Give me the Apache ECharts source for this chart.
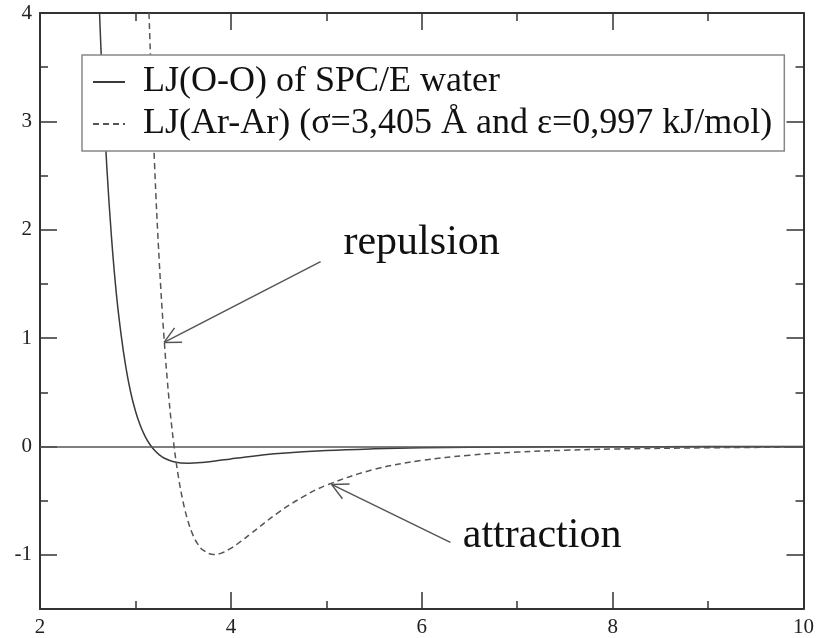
<!DOCTYPE html>
<html>
<head>
<meta charset="utf-8">
<script src="https://cdn.jsdelivr.net/npm/echarts@6/dist/echarts.min.js"></script>
<style>
  html, body { margin: 0; padding: 0; background: #fff; }
  #main { width: 817px; height: 638px; }
</style>
</head>
<body>
<div id="main"></div>
<script>
// LJ(O-O) of SPC/E water
var waterR = [2.6, 2.63, 2.65, 2.7, 2.75, 2.8, 2.85, 2.9, 2.95, 3.0, 3.05, 3.1, 3.15, 3.2, 3.25, 3.3, 3.4, 3.55, 3.7, 3.85, 4.0, 4.25, 4.5, 5, 5.5, 6, 7, 8, 9, 10];
var waterV = [4.58, 3.86, 3.45, 2.58, 1.92, 1.41, 1.03, 0.73, 0.50, 0.327, 0.195, 0.095, 0.020, -0.036, -0.077, -0.107, -0.141, -0.155, -0.148, -0.133, -0.115, -0.088, -0.066, -0.038, -0.022, -0.013, -0.005, -0.0024, -0.0012, -0.0006];
// LJ(Ar-Ar)
var argonR = [3.1, 3.12, 3.15, 3.2, 3.25, 3.3, 3.35, 3.4, 3.45, 3.5, 3.55, 3.6, 3.65, 3.7, 3.82, 3.9, 4.0, 4.1, 4.2, 4.5, 4.75, 5, 5.5, 6, 6.5, 7, 7.5, 8, 9, 10];
var argonV = [5.29, 4.65, 3.79, 2.61, 1.70, 1.00, 0.451, 0.036, -0.279, -0.515, -0.687, -0.811, -0.896, -0.951, -0.997, -0.984, -0.940, -0.879, -0.811, -0.608, -0.468, -0.358, -0.212, -0.129, -0.081, -0.052, -0.035, -0.024, -0.012, -0.006];

var seriesNames = ['LJ(O-O) of SPC/E water', 'LJ(Ar-Ar) (σ=3,405 Å and ε=0,997 kJ/mol)'];
var yMajor = [-1, 0, 1, 2, 3, 4];

// annotations: [text, textX, textY, tailX, tailY, tipX, tipY] in data units
var notes = [
  ['repulsion', 5.18, 1.88, 4.94, 1.705, 3.30, 0.96],
  ['attraction', 6.43, -0.83, 6.30, -0.885, 5.055, -0.35]
];

var font = 'Liberation Serif';
var axisColor = '#333';

function pairs(xs, ys) {
  return xs.map(function (x, i) { return [x, ys[i]]; });
}

function xAx(pos, labels) {
  return {
    type: 'value', position: pos, min: 2, max: 10, interval: 2,
    axisLine: { show: true, onZero: false, lineStyle: { color: axisColor, width: 2 } },
    axisTick: { show: true, inside: true, length: 17, lineStyle: { color: axisColor, width: 1.5 } },
    minorTick: { show: true, splitNumber: 2, length: 8, lineStyle: { color: axisColor, width: 1.5 } },
    axisLabel: { show: labels, color: '#222', fontFamily: font, fontSize: 21, margin: 8 },
    splitLine: { show: false }
  };
}

// minor ticks every 0.5 (axis line), major ticks + labels on integers
function yMinor(pos) {
  return {
    type: 'value', position: pos, min: -1.5, max: 4, interval: 0.5,
    axisLine: { show: true, onZero: false, lineStyle: { color: axisColor, width: 2 } },
    axisTick: { show: true, inside: true, length: 8, lineStyle: { color: axisColor, width: 1.5 } },
    axisLabel: { show: false },
    splitLine: { show: false }
  };
}
function yMaj(pos, labels) {
  return {
    type: 'value', position: pos, min: -1.5, max: 4,
    axisLine: { show: false, onZero: false },
    axisTick: { show: true, inside: true, length: 17, customValues: yMajor, lineStyle: { color: axisColor, width: 1.5 } },
    axisLabel: { show: labels, customValues: yMajor, color: '#222', fontFamily: font, fontSize: 21, margin: 8 },
    splitLine: { show: false }
  };
}

var myChart = echarts.init(document.getElementById('main'));
myChart.setOption({
  animation: false,
  backgroundColor: '#fff',
  grid: { left: 40, right: 10, top: 13, bottom: 28 },
  legend: {
    orient: 'vertical',
    left: 82, top: 55,
    padding: [9, 12, 9, 10],
    backgroundColor: '#fff',
    borderColor: '#888',
    borderWidth: 1.5,
    itemWidth: 32, itemHeight: 14, itemGap: 6,
    z: 10,
    itemStyle: { opacity: 0 },
    textStyle: { fontFamily: font, fontSize: 36, lineHeight: 36, color: '#111', padding: [0, 0, 0, 13] },
    data: seriesNames
  },
  xAxis: [xAx('bottom', true), xAx('top', false)],
  yAxis: [yMinor('left'), yMaj('left', true), yMinor('right'), yMaj('right', false)],
  series: [
    {
      name: seriesNames[0],
      type: 'line',
      symbol: 'none',
      smooth: 0.4,
      data: pairs(waterR, waterV),
      lineStyle: { color: '#3a3a3a', width: 1.5 },
      itemStyle: { color: '#3a3a3a' },
      markLine: {
        silent: true, symbol: 'none', label: { show: false },
        lineStyle: { color: '#555', width: 1.5, type: 'solid' },
        data: [{ yAxis: 0 }]
      }
    },
    {
      name: seriesNames[1],
      type: 'line',
      symbol: 'none',
      smooth: 0.4,
      data: pairs(argonR, argonV),
      lineStyle: { color: '#555', width: 1.5, type: [6, 4] },
      itemStyle: { color: '#555' }
    }
  ]
});

// annotation texts and open arrows, placed through the axes
var graphics = [];
notes.forEach(function (n) {
  var tp = myChart.convertToPixel({ xAxisIndex: 0, yAxisIndex: 0 }, [n[1], n[2]]);
  var tail = myChart.convertToPixel({ xAxisIndex: 0, yAxisIndex: 0 }, [n[3], n[4]]);
  var tip = myChart.convertToPixel({ xAxisIndex: 0, yAxisIndex: 0 }, [n[5], n[6]]);
  graphics.push({
    type: 'text', x: tp[0], y: tp[1], z: 20,
    style: { text: n[0], fontFamily: font, fontSize: 42, fill: '#111', align: 'left', verticalAlign: 'middle' }
  });
  graphics.push({
    type: 'line', z: 20,
    shape: { x1: tail[0], y1: tail[1], x2: tip[0], y2: tip[1] },
    style: { stroke: '#555', lineWidth: 1.5 }
  });
  var ang = Math.atan2(tail[1] - tip[1], tail[0] - tip[0]);
  [-0.47, 0.47].forEach(function (d) {
    graphics.push({
      type: 'line', z: 20,
      shape: { x1: tip[0], y1: tip[1], x2: tip[0] + 18 * Math.cos(ang + d), y2: tip[1] + 18 * Math.sin(ang + d) },
      style: { stroke: '#555', lineWidth: 1.5 }
    });
  });
});
myChart.setOption({ graphic: graphics });
</script>
</body>
</html>
